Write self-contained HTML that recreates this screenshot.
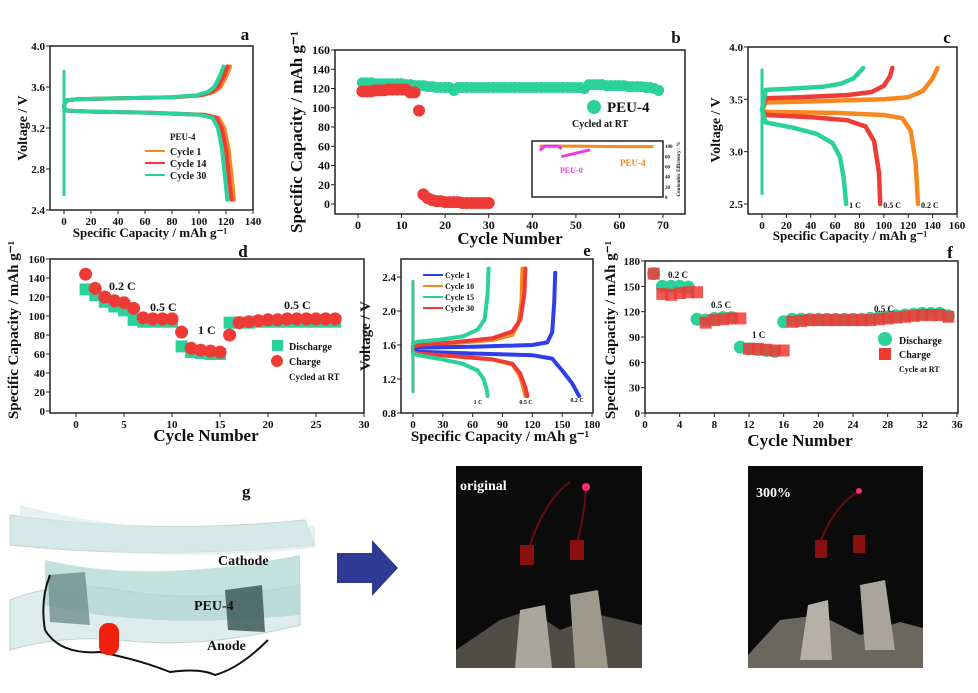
<!DOCTYPE html>
<html><head><meta charset="utf-8">
<style>
html,body{margin:0;padding:0;background:#fff;}
svg{display:block;font-family:"Liberation Serif",serif;}
text{font-weight:bold;fill:#111;}
</style></head>
<body>
<svg id="fig" width="978" height="693" viewBox="0 0 978 693">
 <g>
  <path d="M10,600 Q60,580 120,590 Q200,605 300,585 L300,625 Q200,650 120,640 Q60,635 10,650 Z" fill="#dcebea" stroke="#b8cfcf" opacity="0.9"/>
  <path d="M45,560 Q150,585 300,555 L300,615 Q150,630 45,605 Z" fill="#a9d4cf" opacity="0.7"/>
  <path d="M10,515 Q150,535 305,520 L315,545 Q150,560 10,545 Z" fill="#d0e6e5" stroke="#b8cfcf" opacity="0.85"/>
  <path d="M20,505 Q150,540 315,525 L315,548 Q150,565 20,540 Z" fill="#d6e9e8" opacity="0.6"/>
  <polygon points="48,575 85,572 90,625 50,622" fill="#6f8f8c" opacity="0.8"/>
  <polygon points="225,590 262,585 265,632 228,630" fill="#3d5b57" opacity="0.85"/>
  <path d="M50,575 Q40,600 45,630 Q60,655 100,652 Q140,660 170,672 Q200,668 215,675 Q240,668 268,640" fill="none" stroke="#111" stroke-width="2"/>
  <rect x="99" y="623" width="20" height="32" rx="9" fill="#f2210f"/>
  <text x="242" y="497" font-size="17">g</text>
  <text x="218" y="565" font-size="14">Cathode</text>
  <text x="194" y="610" font-size="14">PEU-4</text>
  <text x="207" y="650" font-size="14">Anode</text>
 </g>
 <g>
  <rect x="337" y="553" width="36" height="30" fill="#2f3a94"/>
  <polygon points="372,540 398,568 372,596" fill="#2f3a94"/>
 </g>
 <g>
  <rect x="456" y="466" width="186" height="202" fill="#0b0b0c"/>
  <path d="M456,650 L500,620 L530,610 L560,630 L600,615 L642,625 L642,668 L456,668 Z" fill="#4f4d46"/>
  <polygon points="520,610 545,605 552,668 515,668" fill="#a9a69d"/>
  <polygon points="570,595 598,590 608,668 575,668" fill="#9d998d"/>
  <rect x="520" y="545" width="14" height="20" fill="#8a1010"/>
  <rect x="570" y="540" width="14" height="20" fill="#8a1010"/>
  <path d="M530,545 Q545,500 570,482 M578,540 Q585,510 586,488" stroke="#6b0c0c" stroke-width="2" fill="none"/>
  <circle cx="586" cy="487" r="4" fill="#ff2a77"/>
  <text x="460" y="490" font-size="14" style="fill:#fff">original</text>
 </g>
 <g>
  <rect x="748" y="466" width="175" height="202" fill="#0b0b0c"/>
  <path d="M748,655 L780,620 L820,615 L860,635 L900,622 L923,628 L923,668 L748,668 Z" fill="#6a675f"/>
  <polygon points="808,605 828,600 832,660 800,660" fill="#b5b1a6"/>
  <polygon points="860,585 885,580 895,650 865,650" fill="#a9a59a"/>
  <rect x="815" y="540" width="12" height="18" fill="#8a1010"/>
  <rect x="853" y="535" width="12" height="18" fill="#8a1010"/>
  <path d="M821,540 Q835,505 858,492" stroke="#6b0c0c" stroke-width="2" fill="none"/>
  <circle cx="859" cy="491" r="3" fill="#ff2a77"/>
  <text x="756" y="497" font-size="14" style="fill:#fff">300%</text>
 </g>
</svg>
<script>
const aChargeCap = [0,2,10,40,80,100,108,113,117,120];
const aChargeV   = [3.42,3.47,3.48,3.49,3.50,3.52,3.55,3.6,3.7,3.8];
const aDisCap = [0,2,20,60,100,110,114,117,119,121];
const aDisV   = [3.40,3.37,3.36,3.35,3.33,3.30,3.2,3.0,2.75,2.5];
const aCycleNames = ['Cycle 1','Cycle 14','Cycle 30'];
const aCycleEnd = [126,124,121];
const bGreen = [126,126,126,125,125,125,125,125,125,125,124,124,123,123,123,122,122,121,121,121,121,118,121,121,121,121,121,121,121,121,121,121,121,121,121,121,121,121,121,121,121,121,121,121,121,121,121,121,121,121,121,120,124,124,124,124,123,123,123,123,123,122,122,122,122,121,121,120,118];
const bRed = [117,117,117,118,118,118,119,119,119,119,119,116,116,97,10,6,4,3,3,2,2,2,2,1,1,1,1,1,1,1];
const bInsetCycles4 = [42,50,60,67.5];
const bInsetCE4 = [100,100,99,99];
const bInsetCycles0a = [42,43,46,46.5];
const bInsetCE0a = [93,100,100,96];
const bInsetCycles0b = [47,48,50,53];
const bInsetCE0b = [80,82,86,92];
const cRates = ['0.2 C','0.5 C','1 C'];
const cChargeCap = [[0,3,40,100,120,132,140,144],[0,3,30,70,90,100,105,107],[0,3,20,50,65,75,80,83]];
const cChargeV = [[3.4,3.47,3.48,3.5,3.52,3.58,3.7,3.8],[3.4,3.51,3.52,3.54,3.57,3.63,3.72,3.8],[3.4,3.59,3.6,3.62,3.65,3.7,3.76,3.8]];
const cDisCap = [[0,3,60,100,115,122,126,128],[0,3,40,70,85,92,96,97],[0,3,25,45,58,64,67,69]];
const cDisV = [[3.4,3.38,3.37,3.35,3.32,3.2,2.9,2.5],[3.4,3.35,3.33,3.3,3.24,3.1,2.8,2.5],[3.4,3.28,3.23,3.17,3.08,2.95,2.75,2.5]];
const dCycles = [1,2,3,4,5,6,7,8,9,10,11,12,13,14,15,16,17,18,19,20,21,22,23,24,25,26,27];
const dDischarge = [128,122,115,110,106,96,94,94,94,94,68,62,61,60,60,93,93,93,94,94,94,94,94,94,94,94,94];
const dCharge = [144,129,120,116,114,108,98,97,97,97,83,66,64,63,62,80,93,94,95,96,96,97,97,97,97,97,97];
const eNames = ['Cycle 1','Cycle 10','Cycle 15','Cycle 30'];
const eChargeCap = [[0,5,60,120,135,140,142,143],[0,5,40,80,100,106,109,110],[0,5,25,50,65,72,75,76],[0,5,40,80,100,108,112,113]];
const eChargeV = [[1.55,1.57,1.58,1.6,1.63,1.75,2.1,2.45],[1.58,1.6,1.62,1.66,1.72,1.85,2.1,2.5],[1.62,1.64,1.66,1.7,1.78,1.9,2.2,2.5],[1.58,1.6,1.63,1.68,1.76,1.9,2.2,2.5]];
const eDisCap = [[0,5,60,120,140,150,160,167],[0,5,40,80,100,107,111,113],[0,5,25,50,65,71,74,75],[0,5,40,80,100,108,113,115]];
const eDisV = [[1.55,1.52,1.5,1.48,1.44,1.3,1.15,1.0],[1.52,1.5,1.47,1.43,1.37,1.25,1.1,1.0],[1.5,1.48,1.44,1.38,1.3,1.2,1.08,1.0],[1.52,1.5,1.47,1.43,1.38,1.26,1.1,1.0]];
const fCycles = [1,2,3,4,5,6,7,8,9,10,11,12,13,14,15,16,17,18,19,20,21,22,23,24,25,26,27,28,29,30,31,32,33,34,35];
const fDischarge = [165,150,150,150,149,111,110,112,113,113,78,76,75,74,73,108,111,111,111,111,111,111,111,111,111,112,113,114,115,116,117,118,118,118,115];
const fCharge = [165,141,140,142,143,143,107,110,111,112,112,76,76,75,74,74,108,109,110,110,110,110,110,110,110,110,111,112,113,114,115,116,116,116,114];
const aXTicks = [0,20,40,60,80,100,120,140];
const aYTicks = ['2.4','2.8','3.2','3.6','4.0'];
const bXTicks = [0,10,20,30,40,50,60,70];
const bYTicks = [0,20,40,60,80,100,120,140,160];
const cXTicks = [0,20,40,60,80,100,120,140,160];
const cYTicks = ['2.5','3.0','3.5','4.0'];
const dXTicks = [0,5,10,15,20,25,30];
const dYTicks = [0,20,40,60,80,100,120,140,160];
const eXTicks = [0,30,60,90,120,150,180];
const eYTicks = ['0.8','1.2','1.6','2.0','2.4'];
const fXTicks = [0,4,8,12,16,20,24,28,32,36];
const fYTicks = [0,30,60,90,120,150,180];

const NS='http://www.w3.org/2000/svg';
const svg=document.getElementById('fig');
function mk(tag,a,parent){const e=document.createElementNS(NS,tag);for(const k in a)e.setAttribute(k,a[k]);(parent||svg).appendChild(e);return e;}
function lin(d0,d1,r0,r1){return v=>r0+(v-d0)*(r1-r0)/(d1-d0);}
function txt(x,y,s,size,anchor,name,extra){const t=mk('text',Object.assign({x:x,y:y,'font-size':size,'text-anchor':anchor||'start'},extra||{}));t.textContent=s;


return t;}
function frame(x0,y0,x1,y1,name){const r=mk('rect',{x:x0,y:y0,width:x1-x0,height:y1-y0,fill:'none',stroke:'#222','stroke-width':1.5});

}
function ticks(sx,sy,xt,yt,x0,y1,p,yfs){
 xt.forEach(v=>{const l=mk('line',{x1:sx(+v),x2:sx(+v),y1:y1,y2:y1+4,stroke:'#222'});
 
 
 txt(sx(+v),y1+15,String(v),yfs||11,'middle',p+'-x-tick-label');});
 yt.forEach(v=>{const l=mk('line',{x1:x0-4,x2:x0,y1:sy(+v),y2:sy(+v),stroke:'#222'});
 
 
 txt(x0-5,sy(+v)+4,String(v),yfs||11,'end',p+'-y-tick-label');});
}
function curve(sx,sy,xs,ys,col,w,name){const d=xs.map((x,i)=>(i?'L':'M')+sx(x).toFixed(1)+','+sy(ys[i]).toFixed(1)).join(' ');
const p=mk('path',{d:d,fill:'none',stroke:col,'stroke-width':w,'stroke-linejoin':'round','stroke-linecap':'round'});

}
function ylabel(x,yc,s,size,name){txt(x,yc,s,size,'middle',name,{transform:'rotate(-90 '+x+' '+yc+')'});}
const OR='#f7881f',RD='#ee3b36',GR='#2ad19a',BL='#2d3fe8',MG='#e53be8';

(function(){
 const sx=lin(0,140,64,253), sy=lin(2.4,4.0,210,46);
 frame(50,46,253,210,'panel-a-frame');
 ticks(sx,sy,aXTicks,aYTicks,50,210,'panel-a');
 const cols=[OR,RD,GR];
 aCycleNames.forEach((n,i)=>{
  const k=aCycleEnd[i]/121;
  curve(sx,sy,[0,0],[2.55,3.75],cols[i],3,'panel-a-initial-'+i);
  curve(sx,sy,aChargeCap.map(c=>c*k*0.985),aChargeV,cols[i],4,'panel-a-charge-'+n.toLowerCase().replace(' ','-'));
  curve(sx,sy,aDisCap.map(c=>c*k),aDisV,cols[i],4,'panel-a-discharge-'+n.toLowerCase().replace(' ','-'));
  const l=mk('line',{x1:145,x2:165,y1:151+i*12,y2:151+i*12,stroke:cols[i],'stroke-width':2});
  
  
  txt(170,155+i*12,n,10,'start','panel-a-legend-entry');
 });
 txt(170,140,'PEU-4',9,'start','panel-a-legend-title');
 txt(245,40,'a',17,'middle','panel-label-a');
 ylabel(27,128,'Voltage / V',14,'panel-a-y-axis-title');
 txt(150,237,'Specific Capacity / mAh g⁻¹',13,'middle','panel-a-x-axis-title');
})();

(function(){
 const sx=lin(0,70,358,663), sy=lin(0,160,204,50);
 frame(335,50,685,214,'panel-b-frame');
 ticks(sx,sy,bXTicks,bYTicks,335,214,'panel-b',12);
 bGreen.forEach((v,i)=>{const c=mk('circle',{cx:sx(i+1),cy:sy(v),r:5.5,fill:GR});
 
 });
 bRed.forEach((v,i)=>{const c=mk('circle',{cx:sx(i+1),cy:sy(v),r:6,fill:RD});
 
 });
 const lc=mk('circle',{cx:594,cy:107,r:7,fill:GR});
 
 
 txt(607,112,'PEU-4',15,'start','panel-b-legend-entry');
 txt(572,127,'Cycled at RT',10,'start','panel-b-legend-note');
 frame(532,141,663,197,'panel-b-inset-frame');
 const ix=lin(40,70,532,663), iy=lin(0,110,197,141);
 curve(ix,iy,bInsetCycles4,bInsetCE4,OR,3,'panel-b-inset-peu4');
 curve(ix,iy,bInsetCycles0a,bInsetCE0a,MG,3,'panel-b-inset-peu0-a');
 curve(ix,iy,bInsetCycles0b,bInsetCE0b,MG,3,'panel-b-inset-peu0-b');
 [0,20,40,60,80,100].forEach(v=>txt(665,iy(v)+2,String(v),5,'start','panel-b-inset-y-tick-label'));
 txt(620,166,'PEU-4',9,'start','panel-b-inset-peu4-label',{style:'fill:'+OR});
 txt(560,173,'PEU-0',8,'start','panel-b-inset-peu0-label',{style:'fill:'+MG});
 txt(680,169,'Coulombic Efficiency / %',5,'middle','panel-b-inset-y-title',{transform:'rotate(-90 680 169)'});
 txt(676,43,'b',17,'middle','panel-label-b');
 ylabel(302,132,'Specific Capacity / mAh g⁻¹',17,'panel-b-y-axis-title');
 txt(510,244,'Cycle Number',17,'middle','panel-b-x-axis-title');
})();

(function(){
 const sx=lin(0,160,762,957), sy=lin(2.5,4.0,204,47);
 frame(748,47,957,214,'panel-c-frame');
 ticks(sx,sy,cXTicks,cYTicks,748,214,'panel-c');
 const cols=[OR,RD,GR];
 cRates.forEach((r,i)=>{
  curve(sx,sy,[0,0],[2.6,3.78],cols[i],3,'panel-c-initial-'+i);
  curve(sx,sy,cChargeCap[i],cChargeV[i],cols[i],4.5,'panel-c-charge-'+i);
  curve(sx,sy,cDisCap[i],cDisV[i],cols[i],4.5,'panel-c-discharge-'+i);
  txt(sx(cDisCap[i][cDisCap[i].length-1])+3,208,r,8,'start','panel-c-rate-label');
 });
 txt(947,43,'c',17,'middle','panel-label-c');
 ylabel(720,130,'Voltage / V',14,'panel-c-y-axis-title');
 txt(850,240,'Specific Capacity / mAh g⁻¹',13,'middle','panel-c-x-axis-title');
})();

(function(){
 const sx=lin(0,30,76,364), sy=lin(0,160,411,259);
 frame(50,259,364,413,'panel-d-frame');
 ticks(sx,sy,dXTicks,dYTicks,50,413,'panel-d');
 dDischarge.forEach((v,i)=>{const r=mk('rect',{x:sx(dCycles[i])-6,y:sy(v)-6,width:12,height:12,fill:GR});
 
 });
 dCharge.forEach((v,i)=>{const c=mk('circle',{cx:sx(dCycles[i]),cy:sy(v),r:6.5,fill:RD});
 
 });
 const ls=mk('rect',{x:272,y:340,width:11,height:11,fill:GR});
 
 
 const lc=mk('circle',{cx:277,cy:361,r:6,fill:RD});
 
 
 txt(289,350,'Discharge',10,'start','panel-d-legend-discharge');
 txt(289,365,'Charge',10,'start','panel-d-legend-charge');
 txt(289,380,'Cycled at RT',9,'start','panel-d-legend-note');
 txt(109,290,'0.2 C',12,'start','panel-d-rate-label');
 txt(150,311,'0.5 C',12,'start','panel-d-rate-label');
 txt(198,334,'1 C',12,'start','panel-d-rate-label');
 txt(284,309,'0.5 C',12,'start','panel-d-rate-label');
 txt(243,257,'d',17,'middle','panel-label-d');
 ylabel(18,330,'Specific Capacity / mAh g⁻¹',15,'panel-d-y-axis-title');
 txt(206,441,'Cycle Number',17,'middle','panel-d-x-axis-title');
})();

(function(){
 const sx=lin(0,180,413,592), sy=lin(0.8,2.4,413,277);
 frame(401,259,593,413,'panel-e-frame');
 ticks(sx,sy,eXTicks,eYTicks,401,413,'panel-e');
 const cols=[BL,OR,GR,RD];
 [1,0,3,2].forEach(i=>{
  curve(sx,sy,[0,0],[1.05,2.35],cols[i],2.5,'panel-e-initial-'+i);
  curve(sx,sy,eChargeCap[i],eChargeV[i],cols[i],4,'panel-e-charge-'+eNames[i].toLowerCase().replace(' ','-'));
  curve(sx,sy,eDisCap[i],eDisV[i],cols[i],4,'panel-e-discharge-'+eNames[i].toLowerCase().replace(' ','-'));
 });
 eNames.forEach((n,i)=>{const l=mk('line',{x1:423,x2:443,y1:275+i*11,y2:275+i*11,stroke:cols[i],'stroke-width':2});
 
 
 txt(445,278+i*11,n,8,'start','panel-e-legend-entry');});
 txt(478,404,'1 C',6,'middle','panel-e-rate-label');
 txt(526,404,'0.5 C',6,'middle','panel-e-rate-label');
 txt(577,402,'0.2 C',6,'middle','panel-e-rate-label');
 txt(587,256,'e',17,'middle','panel-label-e');
 ylabel(370,336,'Voltage / V',15,'panel-e-y-axis-title');
 txt(500,441,'Specific Capacity / mAh g⁻¹',15,'middle','panel-e-x-axis-title');
})();

(function(){
 const sx=lin(0,36,645,957), sy=lin(0,180,413,261);
 frame(645,261,958,413,'panel-f-frame');
 ticks(sx,sy,fXTicks,fYTicks,645,413,'panel-f');
 fDischarge.forEach((v,i)=>{const c=mk('circle',{cx:sx(fCycles[i]),cy:sy(v),r:6.5,fill:GR});
 
 });
 fCharge.forEach((v,i)=>{const r=mk('rect',{x:sx(fCycles[i])-6,y:sy(v)-6,width:12,height:12,fill:RD,opacity:0.85});
 
 });
 const lc=mk('circle',{cx:885,cy:339,r:7,fill:GR});
 
 
 const ls=mk('rect',{x:879,y:348,width:12,height:12,fill:RD});
 
 
 txt(899,344,'Discharge',10,'start','panel-f-legend-discharge');
 txt(899,358,'Charge',10,'start','panel-f-legend-charge');
 txt(899,372,'Cycle at RT',8,'start','panel-f-legend-note');
 txt(668,278,'0.2 C',9,'start','panel-f-rate-label');
 txt(711,308,'0.5 C',9,'start','panel-f-rate-label');
 txt(752,338,'1 C',9,'start','panel-f-rate-label');
 txt(874,312,'0.5 C',9,'start','panel-f-rate-label');
 txt(950,258,'f',17,'middle','panel-label-f');
 ylabel(615,330,'Specific Capacity / mAh g⁻¹',15,'panel-f-y-axis-title');
 txt(800,446,'Cycle Number',17,'middle','panel-f-x-axis-title');
})();
</script>
</body></html>
